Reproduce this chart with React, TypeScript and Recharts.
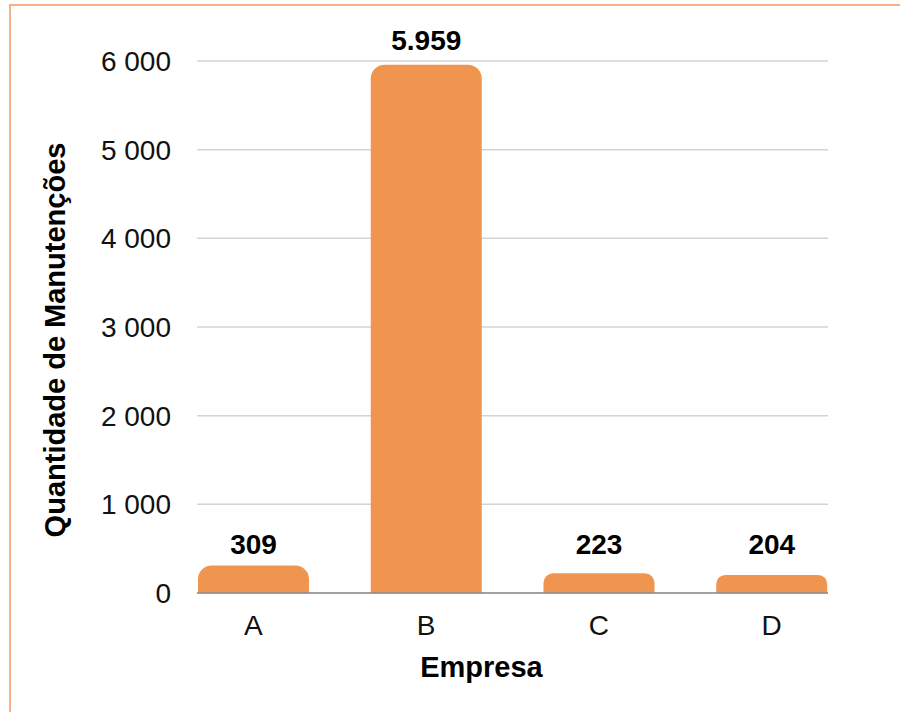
import { BarChart, Bar, XAxis, YAxis, CartesianGrid, LabelList, Label } from "recharts";

const empresas = ["A", "B", "C", "D"];
const manutencoes = [309, 5959, 223, 204];
const yTicks = [0, 1000, 2000, 3000, 4000, 5000, 6000];

const data = empresas.map((empresa, i) => ({ empresa, valor: manutencoes[i] }));

const FONT = "'Liberation Sans', Arial, sans-serif";

const fmtTick = (v: number) => (v >= 1000 ? `${Math.floor(v / 1000)} ${String(v % 1000).padStart(3, "0")}` : String(v));
const fmtLabel = (v: number) => (v >= 1000 ? `${Math.floor(v / 1000)}.${String(v % 1000).padStart(3, "0")}` : String(v));

// short bars share one label line, like the original
const BarValue = ({ x, y, width, value }: any) => (
  <text
    x={x + width / 2}
    y={y < 540 ? y - 15 : 554}
    textAnchor="middle"
    fontSize={28}
    fontWeight="bold"
    fill="#000"
    fontFamily={FONT}
  >
    {fmtLabel(Number(value))}
  </text>
);

const App = () => {
  return (
    <div style={{ position: "absolute", left: 0, top: 0, width: 900, height: 712, overflow: "hidden", background: "#fff" }}>
      <div
        style={{
          position: "absolute",
          left: 9,
          top: 4,
          width: 1000,
          height: 1000,
          border: "2px solid #F4B183",
        }}
      />
      <BarChart
        width={900}
        height={712}
        data={data}
        margin={{ top: 61, right: 72, bottom: 0, left: 97 }}
        style={{ position: "absolute", left: 0, top: 0, fontFamily: FONT }}
      >
        <CartesianGrid vertical={false} stroke="#D4D4D4" strokeWidth={1.5} />
        <XAxis
          dataKey="empresa"
          height={119}
          padding={{ left: -30, right: -30 }}
          axisLine={{ stroke: "#8C8C8C", strokeWidth: 1.5 }}
          tickLine={false}
          tickSize={0}
          tickMargin={22}
          tick={{ fill: "#111", fontSize: 28, fontFamily: FONT }}
        >
          <Label
            content={({ viewBox }: any) => (
              <text
                x={viewBox.x + viewBox.width / 2 - 31}
                y={677}
                textAnchor="middle"
                fontSize={29}
                fontWeight="bold"
                fill="#000"
                fontFamily={FONT}
              >
                Empresa
              </text>
            )}
          />
        </XAxis>
        <YAxis
          width={100}
          domain={[0, 6000]}
          ticks={yTicks}
          axisLine={false}
          tickLine={false}
          tickSize={0}
          tickMargin={26}
          tickFormatter={fmtTick}
          tick={{ fill: "#111", fontSize: 28, fontFamily: FONT }}
        >
          <Label
            content={() => (
              <text
                x={0}
                y={0}
                transform="translate(65 340) rotate(-90)"
                textAnchor="middle"
                fontSize={29}
                fontWeight="bold"
                fill="#000"
                fontFamily={FONT}
              >
                Quantidade de Manutenções
              </text>
            )}
          />
        </YAxis>
        <Bar dataKey="valor" fill="#F0954F" barSize={111} radius={[14, 14, 0, 0]} isAnimationActive={false}>
          <LabelList dataKey="valor" content={BarValue} />
        </Bar>
      </BarChart>
    </div>
  );
};

export default App;
